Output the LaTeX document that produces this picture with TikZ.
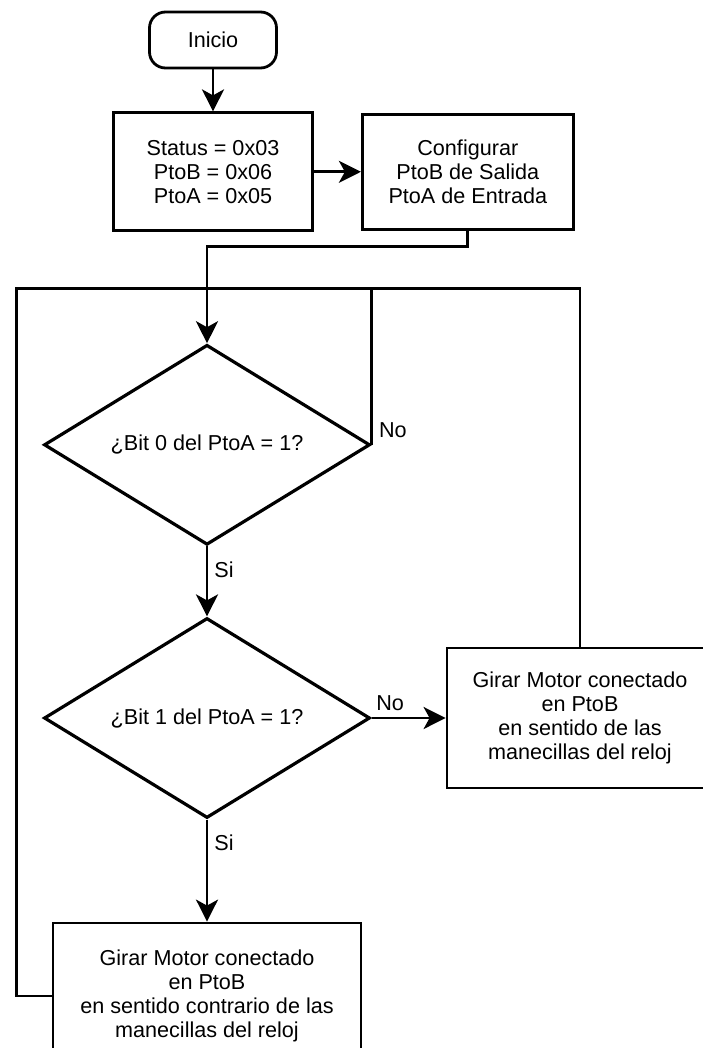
\documentclass[tikz,border=0pt]{standalone}
\usepackage{fontspec}
\setmainfont{Liberation Sans}
\usetikzlibrary{arrows.meta, shapes.geometric, positioning, calc}

\begin{document}
\begin{tikzpicture}[
  x=0.5pt, y=-0.5pt,
  every node/.style={font=\fontsize{10.8}{12}\selectfont},
  term/.style={rectangle, rounded corners=8pt, draw, line width=1.4pt,
               minimum width=63.5pt, minimum height=28pt, align=center},
  proc/.style={rectangle, draw, line width=1.4pt, align=center, inner sep=2pt},
  decis/.style={diamond, aspect=1.63, draw, line width=1.6pt, inner sep=0pt,
                minimum width=163pt, minimum height=100pt},
  arr/.style={-{Stealth[length=11pt, width=11pt, inset=3pt]}, line width=1.4pt},
  conn/.style={line width=1.4pt},
  lbl/.style={inner sep=3pt},
]
\useasboundingbox (0,0) rectangle (702,1048);

%% main column
\node[term] (inicio) at (213,40) {Inicio};
\node[proc, minimum width=99.5pt, minimum height=59pt, below=21pt of inicio] (init)
     {Status = 0x03\\PtoB = 0x06\\PtoA = 0x05};
\node[proc, minimum width=105.5pt, minimum height=57.5pt, right=23.5pt of init] (conf)
     {Configurar\\PtoB de Salida\\PtoA de Entrada};
\node[decis, below=55.5pt of init, xshift=-3pt] (d1) {¿Bit 0 del PtoA = 1?};
\node[decis, below=35pt of d1] (d2) {¿Bit 1 del PtoA = 1?};

%% motor boxes
\node[proc, minimum width=133pt, minimum height=70pt, right=37pt of d2] (girar1)
     {Girar Motor conectado\\en PtoB\\en sentido de las\\manecillas del reloj};
\node[proc, minimum width=154pt, minimum height=73pt, below=51pt of d2] (girar2)
     {Girar Motor conectado\\en PtoB\\en sentido contrario de las\\manecillas del reloj};

\coordinate (loop) at ($(d1.north)+(0,27.5pt)$);

\draw[arr] (inicio) -- (init);
\draw[arr] (init) -- (conf);
\draw[arr] (conf.south) -- ++(0,-8pt) -| (d1.north);
\draw[conn] (d1.east) node[lbl, above right] {No} -- (d1.east |- loop);
\draw[arr] (d1) -- node[lbl, right, pos=0.33] {Si} (d2);
\draw[arr] (d2) -- node[lbl, above, pos=0.25] {No} (girar1);
\draw[arr] (d2) -- node[lbl, right, pos=0.23] {Si} (girar2);

%% loops back
\draw[conn] (girar1.north) |- (loop);
\draw[conn] (girar2.west) -- ++(-17.5pt,0) |- (loop);

\end{tikzpicture}
\end{document}
